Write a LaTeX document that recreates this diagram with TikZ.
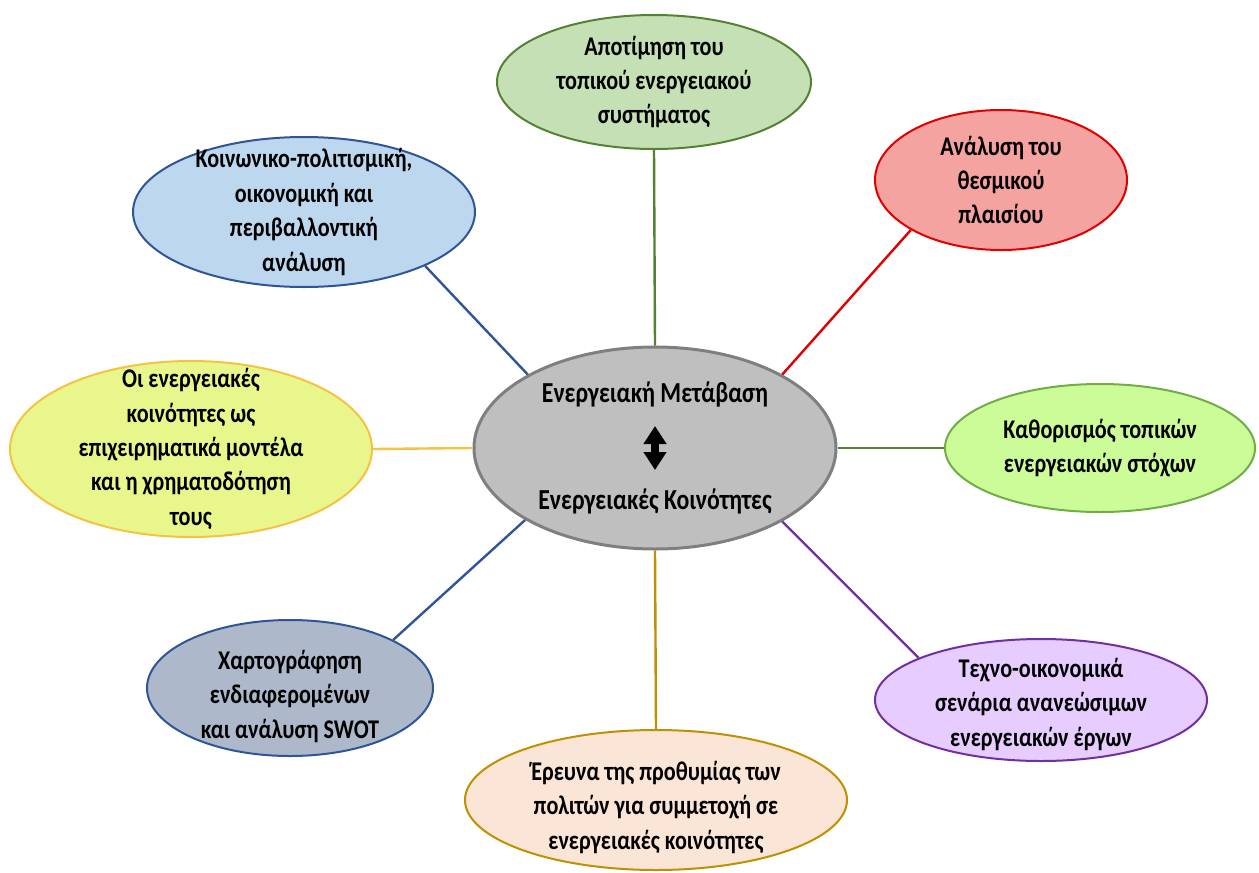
\documentclass[tikz,border=0pt]{standalone}
\usepackage{fontspec}
\setmainfont{Carlito}[FakeStretch=0.82]
\usepackage{xcolor}
\usetikzlibrary{shapes.geometric,arrows.meta}
\definecolor{auditfill}{HTML}{C5E0B4}
\definecolor{auditline}{HTML}{548235}
\definecolor{lawfill}{HTML}{F4A3A0}
\definecolor{lawline}{HTML}{E00000}
\definecolor{socialfill}{HTML}{BDD7EE}
\definecolor{blueline}{HTML}{2F5597}
\definecolor{modelfill}{HTML}{E9F68C}
\definecolor{modelline}{HTML}{F5C242}
\definecolor{hubfill}{HTML}{BFBFBF}
\definecolor{hubline}{HTML}{7F7F7F}
\definecolor{goalfill}{HTML}{CCFC98}
\definecolor{goalline}{HTML}{70AD47}
\definecolor{mapfill}{HTML}{ADB9CA}
\definecolor{techfill}{HTML}{E6CCFF}
\definecolor{techline}{HTML}{7030A0}
\definecolor{surveyfill}{HTML}{FBE5D6}
\definecolor{surveyline}{HTML}{BF9000}

\begin{document}
\begin{tikzpicture}[x=0.5pt,y=-0.5pt,
  bubble/.style={ellipse,draw,line width=1pt,inner sep=-40pt,align=center,
    font=\fontsize{13.5}{17.2}\selectfont\bfseries},
  link/.style={line width=1.2pt}]
\useasboundingbox (0,0) rectangle (1259,873);

\node[bubble,fill=hubfill,draw=hubline,line width=1.5pt,minimum width=181pt,minimum height=101pt,
  font=\fontsize{14.5}{17.2}\selectfont\bfseries] (hub) at (655,448)
  {Ενεργειακή Μετάβαση\\[36pt]Ενεργειακές Κοινότητες};
\node[bubble,fill=auditfill,draw=auditline,minimum width=157pt,minimum height=67pt] (audit) at (654,82)
  {Αποτίμηση του\\τοπικού ενεργειακού\\συστήματος};
\node[bubble,fill=lawfill,draw=lawline,minimum width=126pt,minimum height=70pt] (law) at (1001,180)
  {Ανάλυση του\\θεσμικού\\πλαισίου};
\node[bubble,fill=socialfill,draw=blueline,minimum width=171pt,minimum height=75pt] (social) at (304,212)
  {Κοινωνικο-πολιτισμική,\\οικονομική και\\περιβαλλοντική\\ανάλυση};
\node[bubble,fill=modelfill,draw=modelline,minimum width=181pt,minimum height=88pt] (model) at (191,449)
  {Οι ενεργειακές\\κοινότητες ως\\επιχειρηματικά μοντέλα\\και η χρηματοδότηση\\τους};
\node[bubble,fill=goalfill,draw=goalline,minimum width=155pt,minimum height=64pt] (goal) at (1100,448)
  {Καθορισμός τοπικών\\ενεργειακών στόχων};
\node[bubble,fill=mapfill,draw=blueline,minimum width=143pt,minimum height=68pt] (map) at (290,688)
  {\rule{0pt}{18pt}Χαρτογράφηση\\ενδιαφερομένων\\και ανάλυση SWOT};
\node[bubble,fill=techfill,draw=techline,minimum width=166pt,minimum height=61pt] (tech) at (1041,700)
  {\rule{0pt}{14pt}Τεχνο-οικονομικά\\σενάρια ανανεώσιμων\\ενεργειακών έργων};
\node[bubble,fill=surveyfill,draw=surveyline,minimum width=191pt,minimum height=70pt] (survey) at (656,800)
  {\rule{0pt}{17pt}Έρευνα της προθυμίας των\\πολιτών για συμμετοχή σε\\ενεργειακές κοινότητες};

\draw[link,auditline] (hub.90) -- (audit.-90);
\draw[link,lawline] (hub.30) -- (law.-151);
\draw[link,blueline] (hub.150) -- (social.-24);
\draw[link,modelline] (hub.180) -- (model.0);
\draw[link,auditline] (hub.0) -- (goal.180);
\draw[link,blueline] (hub.-151) -- (map.25);
\draw[link,surveyline] (hub.-90) -- (survey.90);
\draw[link,techline] (hub.-30) -- (tech.161);

\coordinate (tip1) at ([yshift=11pt]hub.center);
\coordinate (tip2) at ([yshift=-11pt]hub.center);
\draw[line width=4pt,{Triangle[width=11pt,length=9pt]}-{Triangle[width=11pt,length=9pt]}] (tip1) -- (tip2);
\end{tikzpicture}
\end{document}
